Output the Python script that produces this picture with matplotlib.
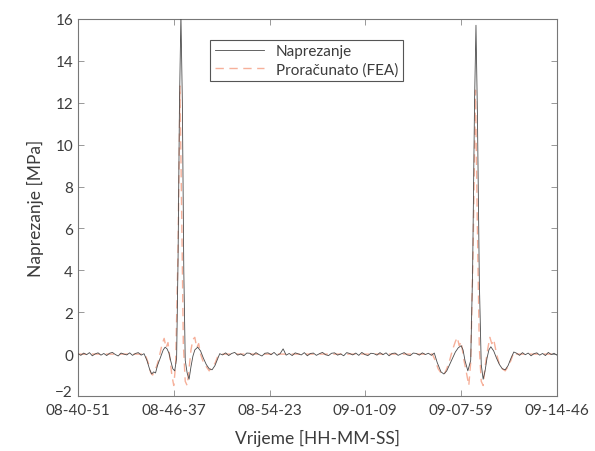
import numpy as np
import matplotlib
matplotlib.use("Agg")
import matplotlib.pyplot as plt
import matplotlib.transforms as mtransforms

plt.rcParams['font.family'] = ['Lato', 'DejaVu Sans']

tick_labels = ["08-40-51", "08-46-37", "08-54-23", "09-01-09", "09-07-59", "09-14-46"]

# Measured signal: baseline noise segments (values typed) and event shapes
base1_vals = [0.02, -0.06, 0.05, -0.03, 0.07, -0.08, 0.01, 0.06, -0.05, 0.03, -0.07, 0.04,
              0.08, -0.02, -0.09, 0.05, 0.00, -0.04, 0.06, -0.06, 0.03, 0.07, -0.05, 0.02]
base2_vals = [-0.04, 0.06, -0.07, 0.03, 0.08, -0.05, 0.01, -0.08, 0.05, 0.04,
              -0.06, 0.07, -0.02, -0.09, 0.04, 0.06, -0.03, 0.08, -0.06, 0.02,
              0.25, -0.05, 0.03, -0.07, 0.06, 0.01, -0.04, 0.07, -0.08, 0.03,
              0.05, -0.06, 0.02, 0.08, -0.03, -0.07, 0.04, 0.06, -0.05, 0.01,
              -0.08, 0.07, 0.03, -0.04, 0.05, -0.06, 0.08, -0.02, -0.07, 0.04,
              0.02, -0.05, 0.07, -0.03, 0.06, -0.08, 0.03, 0.05, -0.06, 0.01,
              0.07, -0.04, -0.07, 0.05, 0.03, -0.05, 0.06, -0.02, 0.04, -0.06]
base3_vals = [0.04, -0.06, 0.07, -0.03, 0.05, -0.08, 0.02, 0.06, -0.05, 0.03,
              -0.07, 0.08, -0.02, 0.04, -0.05]

ev1_x = [0.72, 0.75, 0.77, 0.79, 0.81, 0.83, 0.85, 0.87, 0.89, 0.91, 0.93, 0.95, 0.97, 0.99,
         1.01, 1.03, 1.045, 1.06, 1.075, 1.09, 1.105, 1.12, 1.14, 1.16, 1.18, 1.20, 1.22, 1.25,
         1.28, 1.31, 1.34, 1.37, 1.40, 1.43, 1.46, 1.48]
ev1_y = [-0.3, -0.75, -0.95, -0.85, -0.9, -0.55, -0.3, -0.05, 0.2, 0.33, 0.25, 0.05, -0.35, -0.7,
         -0.8, -0.2, 4.5, 12.0, 16.2, 12.0, 4.0, -0.3, -0.9, -1.2, -0.6, -0.1, 0.2, 0.33,
         0.15, -0.2, -0.5, -0.7, -0.75, -0.55, -0.2, 0.02]
ev2_x = [3.72, 3.75, 3.79, 3.82, 3.85, 3.88, 3.91, 3.94, 3.97, 4.00, 4.02, 4.04, 4.07, 4.10,
         4.12, 4.14, 4.155, 4.17, 4.19, 4.21, 4.23, 4.25, 4.27, 4.29, 4.31, 4.34, 4.37, 4.40,
         4.43, 4.46, 4.49, 4.52, 4.55]
ev2_y = [0.05, -0.4, -0.85, -0.95, -0.8, -0.5, -0.2, 0.1, 0.3, 0.4, 0.2, -0.3, -0.8, -0.3,
         4.0, 12.0, 15.7, 11.5, 3.5, -0.5, -1.2, -0.8, -0.2, 0.2, 0.35, 0.15, -0.2, -0.5,
         -0.7, -0.75, -0.55, -0.2, 0.1]

# FEA computed signal
fea_x = [0.0, 0.70, 0.72, 0.74, 0.76, 0.78, 0.80, 0.82, 0.84, 0.86, 0.88, 0.90, 0.92, 0.94,
         0.96, 0.98, 1.00, 1.02, 1.045, 1.065, 1.085, 1.10, 1.12, 1.14, 1.16, 1.18, 1.20,
         1.22, 1.24, 1.26, 1.28, 1.31, 1.34, 1.37, 1.40, 1.43, 1.46, 1.50,
         3.70, 3.73, 3.76, 3.79, 3.82, 3.85, 3.88, 3.91, 3.94, 3.96, 3.98, 4.00, 4.03, 4.06,
         4.08, 4.10, 4.125, 4.15, 4.17, 4.19, 4.21, 4.23, 4.25, 4.28, 4.30, 4.32, 4.34, 4.37,
         4.40, 4.43, 4.46, 4.49, 4.52, 4.55, 4.58, 5.0]
fea_y = [0.0, 0.0, -0.25, -0.5, -0.9, -1.0, -0.75, -0.6, -0.3, 0.1, 0.5, 0.75, 0.3, 0.55,
         -0.2, -1.0, -1.5, -0.5, 5.0, 12.8, 6.0, 0.5, -1.3, -1.5, -0.7, 0.2, 0.7,
         0.8, 0.3, 0.5, 0.0, -0.4, -0.6, -0.8, -0.6, -0.45, -0.1, 0.0,
         0.0, -0.3, -0.7, -0.9, -1.0, -0.7, -0.3, 0.2, 0.6, 0.8, 0.4, 0.6, -0.3, -1.0,
         -1.5, -0.4, 5.0, 12.6, 6.0, 0.3, -1.3, -1.5, -0.6, 0.3, 0.8, 0.5, 0.7, 0.0,
         -0.5, -0.7, -0.8, -0.6, -0.3, 0.1, 0.0, 0.0]

meas_x = np.concatenate([np.linspace(0.0, 0.69, len(base1_vals)), ev1_x,
                         np.linspace(1.51, 3.69, len(base2_vals)), ev2_x,
                         np.linspace(4.58, 5.0, len(base3_vals))])
meas_y = np.concatenate([base1_vals, ev1_y, base2_vals, ev2_y, base3_vals])

fig = plt.figure(figsize=(5.95, 4.52), dpi=100)
ax = fig.add_axes([0.131, 0.1217, 0.805, 0.8341])

ax.plot(fea_x, fea_y, color='#F6B09A', lw=1.0, dashes=(6, 4), label='Proračunato (FEA)', zorder=2)
ax.plot(meas_x, meas_y, color='#4a4a4a', lw=0.6, label='Naprezanje', zorder=3)

ax.set_xlim(0, 5)
ax.set_ylim(-2, 16)
ax.set_xticks(range(6))
ax.set_xticklabels(tick_labels)
ax.set_yticks(range(-2, 17, 2))

text_color = '#3c3c3c'
ax.tick_params(direction='in', top=True, right=True, length=4, width=0.6,
               colors='#888888', labelcolor=text_color, labelsize=11)
ax.tick_params(axis='x', pad=5)
for s in ax.spines.values():
    s.set_color('#777777')
    s.set_linewidth(0.8)

# raise the lowest y tick label slightly so it clears the x tick labels
lowest = ax.get_yticklabels()[0]
lowest.set_transform(lowest.get_transform() +
                     mtransforms.ScaledTranslation(0, 4 / 72, fig.dpi_scale_trans))

ax.set_xlabel('Vrijeme [HH-MM-SS]', fontsize=12.5, color=text_color, labelpad=9)
ax.set_ylabel('Naprezanje [MPa]', fontsize=12.5, color=text_color, labelpad=8)

handles, labels = ax.get_legend_handles_labels()
leg = ax.legend(handles[::-1], labels[::-1], loc='upper left', bbox_to_anchor=(0.26, 0.965),
                fontsize=11, fancybox=False, framealpha=1, edgecolor='#555555',
                borderpad=0.3, handlelength=3.2, labelspacing=0.25)
leg.get_frame().set_linewidth(0.8)
for t in leg.get_texts():
    t.set_color(text_color)

fig.savefig('out.png', dpi=100)
